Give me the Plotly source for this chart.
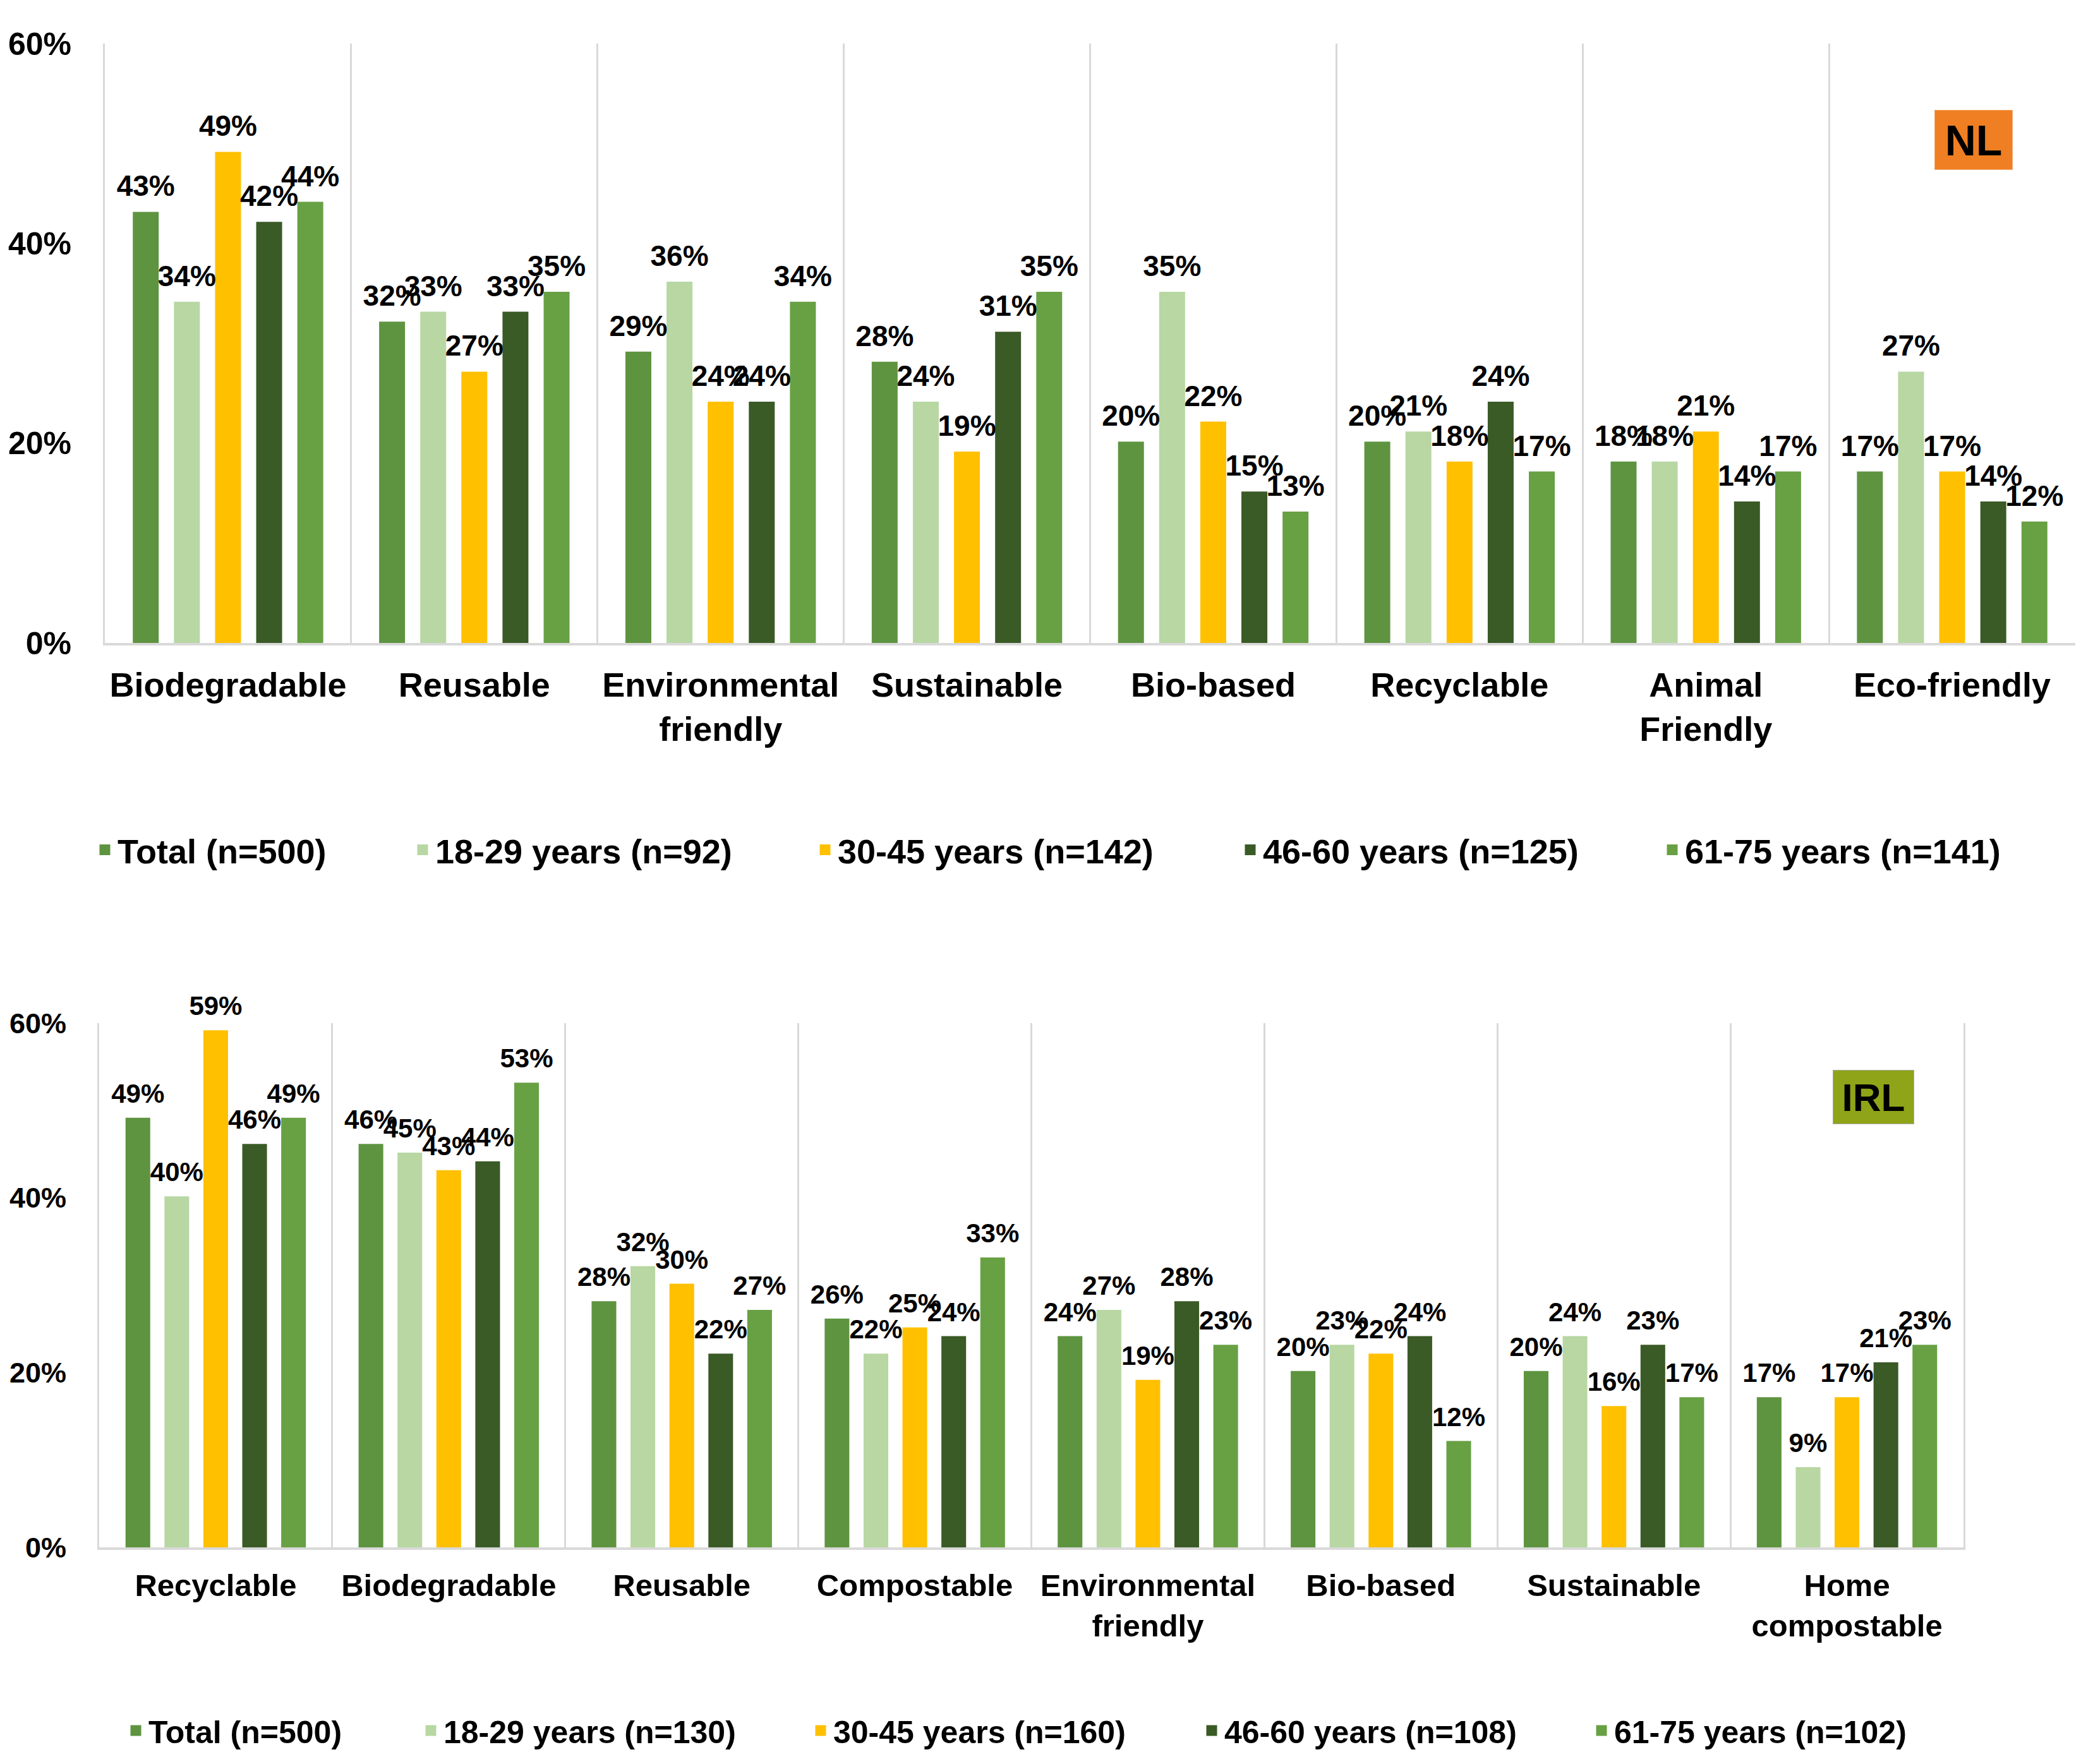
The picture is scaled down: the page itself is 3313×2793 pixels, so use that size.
import plotly.graph_objects as go

# ---------------- DATA ----------------
NL_CATEGORIES = ["Biodegradable", "Reusable", "Environmental<br>friendly", "Sustainable",
                 "Bio-based", "Recyclable", "Animal<br>Friendly", "Eco-friendly"]
NL_TOTAL = [43, 32, 29, 28, 20, 20, 18, 17]
NL_18_29 = [34, 33, 36, 24, 35, 21, 18, 27]
NL_30_45 = [49, 27, 24, 19, 22, 18, 21, 17]
NL_46_60 = [42, 33, 24, 31, 15, 24, 14, 14]
NL_61_75 = [44, 35, 34, 35, 13, 17, 17, 12]
NL_SERIES_NAMES = ["Total (n=500)", "18-29 years (n=92)", "30-45 years (n=142)",
                   "46-60 years (n=125)", "61-75 years (n=141)"]

IRL_CATEGORIES = ["Recyclable", "Biodegradable", "Reusable", "Compostable",
                  "Environmental<br>friendly", "Bio-based", "Sustainable", "Home<br>compostable"]
IRL_TOTAL = [49, 46, 28, 26, 24, 20, 20, 17]
IRL_18_29 = [40, 45, 32, 22, 27, 23, 24, 9]
IRL_30_45 = [59, 43, 30, 25, 19, 22, 16, 17]
IRL_46_60 = [46, 44, 22, 24, 28, 24, 23, 21]
IRL_61_75 = [49, 53, 27, 33, 23, 12, 17, 23]
IRL_SERIES_NAMES = ["Total (n=500)", "18-29 years (n=130)", "30-45 years (n=160)",
                    "46-60 years (n=108)", "61-75 years (n=102)"]

Y_TICKS = [0, 20, 40, 60]
Y_TICK_LABELS = ["0%", "20%", "40%", "60%"]

# ---------------- STYLE ----------------
W, H = 3313, 2793
FONT = "Liberation Sans, Arial, sans-serif"
COLORS = ["#5E9440", "#B8D7A3", "#FFC000", "#3A5A26", "#68A044"]
GRID = "#D9D9D9"
BARGAP = 0.165
BAR_OUTLINE = 5          # outline in the bar's own colour (also enlarges legend swatch)

TOP_LEGEND_CENTERS = [166, 669, 1306, 1979, 2647]
BOT_LEGEND_CENTERS = [215, 682, 1299, 1918, 2535]
TOP_LEGEND_Y = 1346
BOT_LEGEND_Y = 2740


def px_x(v):
    return v / W


def px_y(v):
    return 1 - v / H


fig = go.Figure()

nl_values = [NL_TOTAL, NL_18_29, NL_30_45, NL_46_60, NL_61_75]
irl_values = [IRL_TOTAL, IRL_18_29, IRL_30_45, IRL_46_60, IRL_61_75]


def add_panel(categories, series_values, names, xa, ya, legend_offset, label_size):
    for i, (name, vals) in enumerate(zip(names, series_values)):
        idx = legend_offset + i
        legend_key = "legend" if idx == 0 else f"legend{idx + 1}"
        fig.add_trace(go.Bar(
            x=categories, y=vals, name=name,
            marker=dict(color=COLORS[i], line=dict(color=COLORS[i], width=BAR_OUTLINE)),
            xaxis=xa, yaxis=ya, legend=legend_key, hoverinfo="skip",
            offsetgroup=str(i),
        ))
    # data labels (grouped like the bars)
    for i, vals in enumerate(series_values):
        fig.add_trace(go.Scatter(
            x=categories, y=vals, mode="markers+text",
            text=[f"{v}%" for v in vals], textposition="top center",
            marker=dict(size=24, opacity=0, color=COLORS[i]),
            textfont=dict(family=FONT, size=label_size, color="black", weight="bold"),
            cliponaxis=False, showlegend=False, hoverinfo="skip",
            xaxis=xa, yaxis=ya, offsetgroup=str(i),
        ))


add_panel(NL_CATEGORIES, nl_values, NL_SERIES_NAMES, "x", "y", 0, 46)
add_panel(IRL_CATEGORIES, irl_values, IRL_SERIES_NAMES, "x2", "y2", 5, 42)

xaxis_common = dict(
    type="category", tickson="boundaries", showgrid=True, gridcolor=GRID, gridwidth=3,
    showline=True, linecolor=GRID, linewidth=4, ticks="", zeroline=False,
    tickangle=0,
)
yaxis_common = dict(
    range=[0, 60], tickvals=Y_TICKS, ticktext=Y_TICK_LABELS, showgrid=False,
    showline=True, linecolor=GRID, linewidth=3, ticks="", zeroline=False,
    ticklabelstandoff=40,
)

layout = dict(
    width=W, height=H, margin=dict(l=0, r=0, t=0, b=0, autoexpand=False),
    paper_bgcolor="white", plot_bgcolor="white",
    barmode="group", bargap=BARGAP, bargroupgap=0.447,
    scattermode="group", scattergap=BARGAP,
    font=dict(family=FONT, color="black"),
    xaxis=dict(domain=[px_x(166), px_x(3285)], anchor="y",
               tickfont=dict(family=FONT, size=54, color="black", weight="bold"),
               ticklabelstandoff=16, **xaxis_common),
    yaxis=dict(domain=[px_y(1018), px_y(69)], anchor="x",
               tickfont=dict(family=FONT, size=50, color="black", weight="bold"),
               **yaxis_common),
    xaxis2=dict(domain=[px_x(157), px_x(3108)], anchor="y2",
                tickfont=dict(family=FONT, size=49, color="black", weight="bold"),
                ticklabelstandoff=14, **xaxis_common),
    yaxis2=dict(domain=[px_y(2450), px_y(1620)], anchor="x2", mirror=True,
                tickfont=dict(family=FONT, size=45, color="black", weight="bold"),
                **yaxis_common),
    showlegend=True,
    annotations=[
        dict(text="NL", xref="paper", yref="paper", x=px_x(3124), y=px_y(221),
             xanchor="center", yanchor="middle", showarrow=False,
             font=dict(family=FONT, size=68, color="black", weight="bold"),
             bgcolor="#EF7F22", bordercolor="#F3A66A", borderwidth=1, borderpad=0,
             width=122, height=93),
        dict(text="IRL", xref="paper", yref="paper", x=px_x(2965), y=px_y(1737),
             xanchor="center", yanchor="middle", showarrow=False,
             font=dict(family=FONT, size=62, color="black", weight="bold"),
             bgcolor="#8FA418", bordercolor="#A8A8A8", borderwidth=1, borderpad=0,
             width=127, height=84),
    ],
)

for i in range(10):
    key = "legend" if i == 0 else f"legend{i + 1}"
    if i < 5:
        cx, cy, fs = TOP_LEGEND_CENTERS[i], TOP_LEGEND_Y, 54
    else:
        cx, cy, fs = BOT_LEGEND_CENTERS[i - 5], BOT_LEGEND_Y, 50
    layout[key] = dict(
        x=px_x(cx - 20), y=px_y(cy), xanchor="left", yanchor="middle",
        orientation="h", bgcolor="rgba(0,0,0,0)", borderwidth=0,
        font=dict(family=FONT, size=fs, color="black", weight="bold"),
    )

fig.update_layout(**layout)

fig.write_html("out.html", config={"displayModeBar": False},
               post_script="document.body.style.margin='0';")
